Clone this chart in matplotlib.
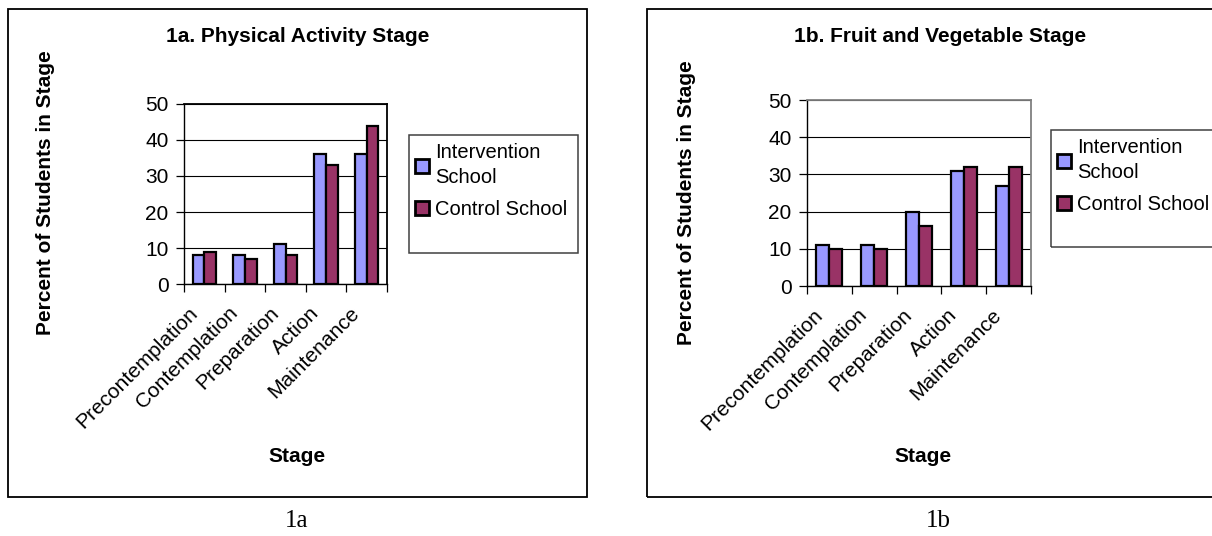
import matplotlib
matplotlib.use("Agg")
import matplotlib.pyplot as plt
from matplotlib.patches import Rectangle, Patch
from matplotlib.transforms import ScaledTranslation
import numpy as np

plt.rcParams['font.family'] = ['Liberation Sans', 'DejaVu Sans']

categories = ["Precontemplation", "Contemplation", "Preparation", "Action", "Maintenance"]
series_names = ["Intervention\nSchool", "Control School"]
pa_intervention = [8, 8, 11, 36, 36]
pa_control = [9, 7, 8, 33, 44]
fv_intervention = [11, 11, 20, 31, 27]
fv_control = [10, 10, 16, 32, 32]
y_ticks = [0, 10, 20, 30, 40, 50]
titles = ["1a. Physical Activity Stage", "1b. Fruit and Vegetable Stage"]
captions = ["1a", "1b"]
y_label = "Percent of Students in Stage"
x_label = "Stage"

BLUE = "#9999FF"
RED = "#993366"

W, H = 1212, 536
fig = plt.figure(figsize=(W / 100, H / 100), dpi=100)


def fx(x):
    return x / W


def fy(y):
    return 1 - y / H


def add_axes_px(x0, y0, x1, y1):
    return fig.add_axes([fx(x0), fy(y1), (x1 - x0) / W, (y1 - y0) / H])


def draw_panel(box, plot, legend_box, title, caption, title_xy, ylab_xy, xlab_xy, cap_xy,
               v1, v2, frame_color):
    bx0, by0, bx1, by1 = box
    fig.patches.append(Rectangle((fx(bx0), fy(by1)), (bx1 - bx0) / W, (by1 - by0) / H,
                                 transform=fig.transFigure, fill=False,
                                 edgecolor="black", linewidth=1.3, zorder=0))
    ax = add_axes_px(*plot)
    x = np.arange(len(categories))
    bw = 0.29
    ax.bar(x - bw / 2, v1, bw, color=BLUE, edgecolor="black", linewidth=1.6, zorder=3)
    ax.bar(x + bw / 2, v2, bw, color=RED, edgecolor="black", linewidth=1.6, zorder=3)
    ax.set_xlim(-0.5, len(categories) - 0.5)
    ax.set_ylim(0, 50)
    ax.set_yticks(y_ticks)
    ax.set_yticklabels([str(t) for t in y_ticks], fontsize=15)
    ax.yaxis.grid(True, color="black", linewidth=0.8, zorder=0)
    ax.set_axisbelow(True)
    ax.set_xticks(np.arange(len(categories) + 1) - 0.5)
    ax.set_xticklabels([])
    ax.set_xticks(x, minor=True)
    ax.set_xticklabels(categories, minor=True, rotation=45, ha="right", va="center",
                       rotation_mode="anchor", fontsize=15)
    ax.tick_params(axis="x", which="minor", length=0, pad=0)
    off = ScaledTranslation(-10 / 100, -26 / 100, fig.dpi_scale_trans)
    for lab in ax.get_xticklabels(minor=True):
        lab.set_transform(lab.get_transform() + off)
    ax.tick_params(axis="x", which="major", length=6, width=0.9, direction="out")
    ax.tick_params(axis="y", length=6, width=0.9, direction="out", pad=5)
    for side in ["left", "bottom"]:
        ax.spines[side].set_color("black")
        ax.spines[side].set_linewidth(1.0)
    for side in ["top", "right"]:
        ax.spines[side].set_color(frame_color)
        ax.spines[side].set_linewidth(1.3)
    lx0, ly0, lx1, ly1 = legend_box
    fig.patches.append(Rectangle((fx(lx0), fy(ly1)), (lx1 - lx0) / W, (ly1 - ly0) / H,
                                 transform=fig.transFigure, fill=False,
                                 edgecolor="#404040", linewidth=1.1, zorder=5))
    handles = [Patch(facecolor=BLUE, edgecolor="black", linewidth=2.0),
               Patch(facecolor=RED, edgecolor="black", linewidth=2.0)]
    leg = fig.legend(handles, series_names, loc="upper left",
                     bbox_to_anchor=(fx(lx0 + 2), fy(ly0 + 4)), frameon=False,
                     fontsize=14.5, handlelength=0.7, handleheight=0.7,
                     handletextpad=0.3, labelspacing=0.62, borderpad=0.2,
                     borderaxespad=0)
    for t in leg.get_texts():
        t.set_linespacing(1.42)
    fig.text(fx(title_xy[0]), fy(title_xy[1]), title, ha="center", va="center",
             fontsize=15, fontweight="bold")
    fig.text(fx(ylab_xy[0]), fy(ylab_xy[1]), y_label, ha="center", va="center",
             rotation=90, fontsize=15, fontweight="bold")
    fig.text(fx(xlab_xy[0]), fy(xlab_xy[1]), x_label, ha="center", va="center",
             fontsize=15, fontweight="bold")
    fig.text(fx(cap_xy[0]), fy(cap_xy[1]), caption, ha="center", va="center",
             fontsize=18, family=["Liberation Serif", "DejaVu Serif"])
    return ax


draw_panel(box=(8, 9, 587, 497), plot=(184, 104, 387, 284),
           legend_box=(409, 135, 578, 253), title=titles[0], caption=captions[0],
           title_xy=(298, 37), ylab_xy=(46, 193), xlab_xy=(297, 457), cap_xy=(297, 521),
           v1=pa_intervention, v2=pa_control, frame_color="black")

draw_panel(box=(647, 9, 1230, 497), plot=(807, 100, 1031, 286),
           legend_box=(1051, 130, 1230, 247), title=titles[1], caption=captions[1],
           title_xy=(940, 37), ylab_xy=(686, 203), xlab_xy=(923, 457), cap_xy=(938, 521),
           v1=fv_intervention, v2=fv_control, frame_color="#808080")

fig.savefig("out.png", dpi=100)
